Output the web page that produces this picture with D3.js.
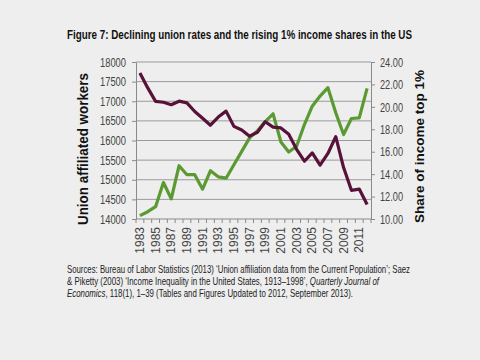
<!DOCTYPE html>
<html>
<head>
<meta charset="utf-8">
<script src="https://cdn.jsdelivr.net/npm/d3@7"></script>
<style>
  html, body { margin: 0; padding: 0; background: #eeeeee; }
  svg { display: block; }
  text { font-family: "Liberation Sans", Arial, sans-serif; }
</style>
</head>
<body>
<svg id="chart"></svg>
<script>
// union affiliated workers (thousands), left axis
let years = d3.range(1983, 2013);
let unionWorkers = [17717, 17340, 16996, 16975, 16913, 17002, 16960, 16740, 16568, 16390,
    16598, 16748, 16360, 16269, 16110, 16211, 16477, 16340, 16320, 16160,
    15776, 15472, 15685, 15370, 15670, 16098, 15310, 14730, 14762, 14370];
// share of income of top 1% (%), right axis
let topShare = [10.3, 10.65, 11.1, 13.25, 11.8, 14.75, 13.95, 13.95, 12.66, 14.3,
    13.76, 13.64, 14.84, 16.03, 17.23, 17.86, 18.69, 19.38, 16.87, 15.97,
    16.48, 18.42, 20.06, 20.96, 21.71, 19.47, 17.53, 18.96, 19.02, 21.65];
let leftTicks = d3.range(14000, 18001, 500);
let rightTicks = d3.range(10, 24.01, 2);
let xLabelYears = years.filter((d, i) => i % 2 === 0);

function drawChart() {
    let width = 480, height = 360;
    let svg = d3.select("#chart").attr("width", width).attr("height", height);
    let left = 136, right = 371, top = 62, bottom = 219;

    let x = d3.scaleBand().domain(years).range([left, right]);
    let yL = d3.scaleLinear().domain([14000, 18000]).range([bottom, top]);
    let yR = d3.scaleLinear().domain([10, 24]).range([bottom, top]);
    let cx = d => x(d) + x.bandwidth() / 2;

    // title (text in the picture is narrow, so squeeze it)
    svg.append("text")
        .attr("x", 67).attr("y", 39)
        .attr("textLength", 345).attr("lengthAdjust", "spacingAndGlyphs")
        .style("font-size", "12.5px").style("font-weight", "bold")
        .attr("fill", "#111")
        .text("Figure 7: Declining union rates and the rising 1% income shares in the US");

    // gridlines
    svg.append("g").selectAll("line").data(leftTicks.slice(1)).enter().append("line")
        .attr("x1", left).attr("x2", right)
        .attr("y1", d => yL(d)).attr("y2", d => yL(d))
        .attr("stroke", "#9a9a9a").attr("stroke-width", 1);

    // left axis
    let gL = svg.append("g").attr("transform", "translate(" + left + ",0)")
        .call(d3.axisLeft(yL).tickValues(leftTicks).tickSize(4).tickSizeOuter(0).tickPadding(6).tickFormat(d3.format("d")));
    gL.select(".domain").attr("stroke", "#8a8a8a");
    gL.selectAll(".tick line").attr("stroke", "#8a8a8a");
    gL.selectAll("text").style("font-size", "12.5px").attr("fill", "#444").style("font-family", null)
        .attr("textLength", 26).attr("lengthAdjust", "spacingAndGlyphs");

    // right axis
    let gR = svg.append("g").attr("transform", "translate(" + right + ",0)")
        .call(d3.axisRight(yR).tickValues(rightTicks).tickSize(4).tickSizeOuter(0).tickPadding(5).tickFormat(d3.format(".2f")));
    gR.select(".domain").attr("stroke", "#8a8a8a");
    gR.selectAll(".tick line").attr("stroke", "#8a8a8a");
    gR.selectAll("text").style("font-size", "13px").attr("fill", "#444").style("font-family", null)
        .attr("textLength", 23).attr("lengthAdjust", "spacingAndGlyphs");

    // bottom axis: ticks at category boundaries
    svg.append("line").attr("x1", left).attr("x2", right).attr("y1", bottom).attr("y2", bottom)
        .attr("stroke", "#8a8a8a");
    svg.append("g").selectAll("line").data(years.concat([2013])).enter().append("line")
        .attr("x1", d => d === 2013 ? right : x(d)).attr("x2", d => d === 2013 ? right : x(d))
        .attr("y1", bottom).attr("y2", bottom + 4)
        .attr("stroke", "#8a8a8a");
    svg.append("g").selectAll("text").data(xLabelYears).enter().append("text")
        .attr("transform", d => "translate(" + (cx(d) + 4) + "," + (bottom + 8) + ") rotate(-90)")
        .attr("text-anchor", "end")
        .style("font-size", "12px").attr("fill", "#444")
        .text(d => d);

    // axis titles
    svg.append("text")
        .attr("transform", "translate(88,149) rotate(-90)")
        .attr("text-anchor", "middle")
        .attr("textLength", 152).attr("lengthAdjust", "spacingAndGlyphs")
        .style("font-size", "14px").style("font-weight", "bold").attr("fill", "#111")
        .text("Union  affiliated  workers");
    svg.append("text")
        .attr("transform", "translate(424,146.5) rotate(-90)")
        .attr("text-anchor", "middle")
        .attr("textLength", 153).attr("lengthAdjust", "spacingAndGlyphs")
        .style("font-size", "13.5px").style("font-weight", "bold").attr("fill", "#111")
        .text("Share of income top 1%");

    // lines
    let lineL = d3.line().x((d, i) => cx(years[i])).y(d => yL(d));
    let lineR = d3.line().x((d, i) => cx(years[i])).y(d => yR(d));
    svg.append("path").datum(topShare).attr("d", lineR)
        .attr("fill", "none").attr("stroke", "#5b9a32").attr("stroke-width", 3.2)
        .attr("stroke-linejoin", "round");
    svg.append("path").datum(unionWorkers).attr("d", lineL)
        .attr("fill", "none").attr("stroke", "#58123a").attr("stroke-width", 3.2)
        .attr("stroke-linejoin", "round");

    // sources, one text per line so each can be squeezed to its width
    let srcStyle = t => t.style("font-size", "11.5px").attr("fill", "#222")
        .attr("lengthAdjust", "spacingAndGlyphs").attr("x", 67);
    svg.append("text").call(srcStyle).attr("y", 273).attr("textLength", 343)
        .text("Sources: Bureau of Labor Statistics (2013) \u2018Union affiliation data from the Current Population\u2019; Saez");
    let l2 = svg.append("text").call(srcStyle).attr("y", 285).attr("textLength", 312);
    l2.append("tspan").text("& Piketty (2003) \u2018Income Inequality in the United States, 1913\u20131998\u2019, ");
    l2.append("tspan").style("font-style", "italic").text("Quarterly Journal of");
    let l3 = svg.append("text").call(srcStyle).attr("y", 297).attr("textLength", 286);
    l3.append("tspan").style("font-style", "italic").text("Economics");
    l3.append("tspan").text(", 118(1), 1\u201339 (Tables and Figures Updated to 2012, September 2013).");
}

drawChart();
</script>
</body>
</html>
